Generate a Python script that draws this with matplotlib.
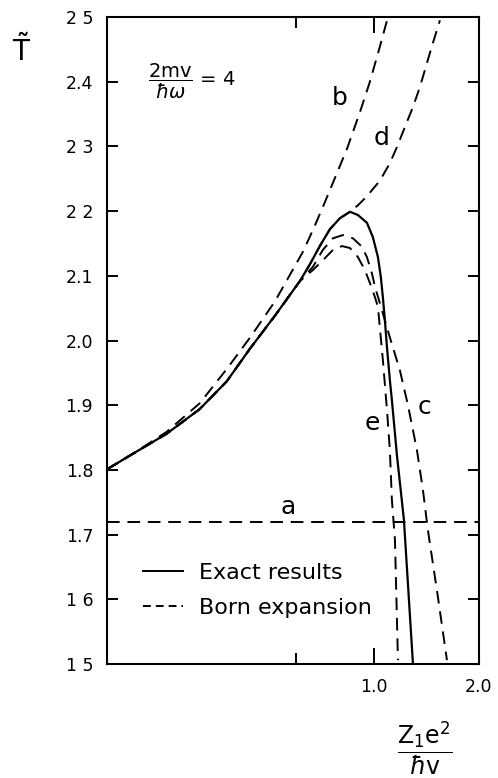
import matplotlib
matplotlib.use('Agg')
import matplotlib.pyplot as plt
from matplotlib.lines import Line2D
from matplotlib.ticker import FixedLocator, NullFormatter

plt.rcParams['mathtext.fontset'] = 'dejavusans'

# common low-coupling part shared by all curves except a and b
common_x = [0.172, 0.204, 0.255, 0.317, 0.379, 0.441, 0.520, 0.614]
common_y = [1.801, 1.825, 1.856, 1.894, 1.937, 1.987, 2.038, 2.092]

# exact result (solid)
exact_x = common_x + [0.656, 0.700, 0.748, 0.799, 0.854, 0.900, 0.955, 0.993, 1.027,
                      1.047, 1.061, 1.075, 1.090, 1.111, 1.126, 1.164, 1.219, 1.294]
exact_y = common_y + [2.118, 2.146, 2.172, 2.189, 2.199, 2.194, 2.182, 2.160, 2.129,
                      2.098, 2.067, 2.032, 1.990, 1.939, 1.908, 1.823, 1.723, 1.500]

# Born expansion curves (dashed)
a_x = [0.172, 2.0]
a_y = [1.72, 1.72]

b_x = [0.172, 0.204, 0.255, 0.317, 0.379, 0.441, 0.520, 0.626, 0.673, 0.724,
       0.837, 0.912, 0.974, 1.040, 1.097]
b_y = [1.801, 1.825, 1.859, 1.903, 1.956, 2.004, 2.060, 2.137, 2.174, 2.214,
       2.296, 2.353, 2.400, 2.454, 2.500]

c_x = common_x + [0.669, 0.714, 0.763, 0.815, 0.871, 0.924, 0.955, 0.987, 1.007,
                  1.040, 1.111, 1.187, 1.252, 1.328, 1.382, 1.428, 1.525, 1.619]
c_y = common_y + [2.114, 2.140, 2.158, 2.163, 2.158, 2.145, 2.129, 2.104, 2.083,
                  2.058, 2.005, 1.954, 1.900, 1.831, 1.769, 1.707, 1.604, 1.506]

d_x = common_x + [0.656, 0.700, 0.748, 0.799, 0.854, 0.900, 0.955, 1.040, 1.111,
                  1.164, 1.227, 1.294, 1.355, 1.419, 1.476, 1.546]
d_y = common_y + [2.118, 2.146, 2.172, 2.189, 2.199, 2.209, 2.223, 2.247, 2.274,
                  2.299, 2.330, 2.361, 2.392, 2.429, 2.460, 2.495]

e_x = common_x + [0.669, 0.714, 0.763, 0.810, 0.854, 0.900, 0.942, 0.974, 1.007,
                  1.027, 1.061, 1.090, 1.111, 1.126, 1.149, 1.172]
e_y = common_y + [2.109, 2.124, 2.140, 2.146, 2.143, 2.129, 2.109, 2.089, 2.067,
                  2.052, 1.970, 1.893, 1.831, 1.754, 1.692, 1.506]

y_ticks = [1.5, 1.6, 1.7, 1.8, 1.9, 2.0, 2.1, 2.2, 2.3, 2.4, 2.5]
y_ticklabels = ['1 5', '1 6', '1.7', '1.8', '1.9', '2.0', '2.1', '2 2', '2 3', '2.4', '2 5']
x_major = [1.0, 2.0]
x_major_labels = ['1.0', '2.0']
x_minor = [0.6]

fig = plt.figure(figsize=(4.98, 7.78), dpi=100)
ax = fig.add_axes([0.2149, 0.1465, 0.7469, 0.8316])

dash = (6.5, 4)
ax.plot(exact_x, exact_y, color='black', lw=1.6)
ax.plot(a_x, a_y, color='black', lw=1.4, dashes=dash)
ax.plot(b_x, b_y, color='black', lw=1.4, dashes=dash)
ax.plot(c_x, c_y, color='black', lw=1.4, dashes=dash)
ax.plot(d_x, d_y, color='black', lw=1.4, dashes=dash)
ax.plot(e_x, e_y, color='black', lw=1.4, dashes=dash)

ax.set_xscale('log')
ax.set_xlim(0.172, 2.0)
ax.set_ylim(1.5, 2.5)

ax.xaxis.set_major_locator(FixedLocator(x_major))
ax.xaxis.set_minor_locator(FixedLocator(x_minor))
ax.xaxis.set_minor_formatter(NullFormatter())
ax.set_xticklabels(x_major_labels)
ax.set_yticks(y_ticks)
ax.set_yticklabels(y_ticklabels)

ax.tick_params(axis='y', which='both', direction='in', length=8, width=1.4,
               left=True, right=True, labelsize=12.5, pad=10)
ax.tick_params(axis='x', which='major', direction='in', length=11.5, width=1.4,
               top=True, bottom=True, labelsize=12.5, pad=10)
ax.tick_params(axis='x', which='minor', direction='in', length=8, width=1.4,
               top=True, bottom=True)
for s in ax.spines.values():
    s.set_linewidth(1.5)

# curve labels
ax.text(0.567, 1.743, 'a', fontsize=18, ha='center', va='center')
ax.text(0.799, 2.375, 'b', fontsize=18, ha='center', va='center')
ax.text(1.40, 1.897, 'c', fontsize=18, ha='center', va='center')
ax.text(1.054, 2.313, 'd', fontsize=18, ha='center', va='center')
ax.text(0.987, 1.872, 'e', fontsize=18, ha='center', va='center')

ax.text(0.225, 2.40, r'$\dfrac{2\mathrm{mv}}{\hbar\omega}$ = 4', fontsize=14,
        ha='left', va='center')

handles = [Line2D([], [], color='black', lw=1.4),
           Line2D([], [], color='black', lw=1.4, dashes=(4, 2.6))]
ax.legend(handles, ['Exact results', 'Born expansion'], loc='center left',
          bbox_to_anchor=(0.097, 0.114), frameon=False, fontsize=16,
          handlelength=1.8, handletextpad=0.7, labelspacing=0.68,
          borderpad=0, borderaxespad=0)

fig.text(0.044, 0.935, r'$\tilde{\mathrm{T}}$', fontsize=20, ha='center', va='center')
fig.text(0.853, 0.038, r'$\dfrac{\mathrm{Z_1e^2}}{\hbar\mathrm{v}}$', fontsize=17,
         ha='center', va='center')

fig.savefig('out.png', dpi=100)
